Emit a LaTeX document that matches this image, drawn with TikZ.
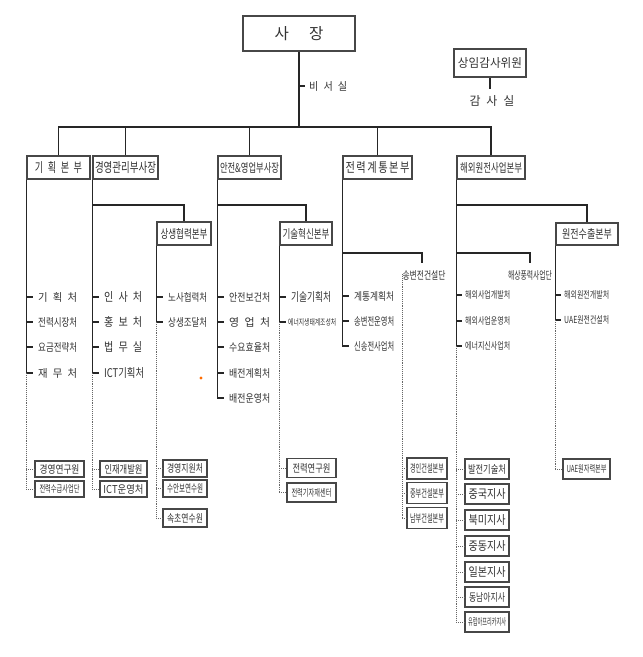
\documentclass[tikz,border=0pt]{standalone}
\usepackage{fontspec}
\setmainfont{Noto Sans CJK KR}
\usepackage{graphicx}
\newcommand{\rz}[3]{\resizebox{#1pt}{#2pt}{#3}}
\newcommand{\gp}{\hspace{0.5em}}
\definecolor{txt}{HTML}{333333}
\begin{document}
\begin{tikzpicture}[x=1pt,y=-1pt,
  box/.style={draw=black!72, line width=1.4pt, fill=white, inner sep=0pt, text=txt},
  ln/.style={draw=black!85, line width=1.2pt},
  dt/.style={draw=black!60, line width=0.7pt, dash pattern=on 0.8pt off 1.1pt},
  item/.style={anchor=west, inner xsep=5pt, inner ysep=0pt, text=txt},
  lbl/.style={inner sep=0pt, text=txt}]
\useasboundingbox[fill=white] (0,0) rectangle (643,657);

% top
\node[box, minimum width=112pt, minimum height=35pt] (ceo) at (299,33.5) {\rz{49}{13}{사\hspace{1.3em}장}};
\node[lbl, anchor=west] (bisa) at (309,86) {\rz{38}{9}{비\gp 서\gp 실}};
\node[box, minimum width=72pt, minimum height=28pt] (audit) at (490,63) {\rz{64}{10}{상임감사위원}};
\coordinate (auditend) at (490,89);
\node[lbl] (gamsa) at (492,101) {\rz{45}{10}{감\gp 사\gp 실}};
\draw[ln] (audit.south) -- (auditend);
\coordinate (bus) at (0,127);
\draw[ln] (ceo.south) -- (ceo.south |- bus);
\draw[ln] (ceo.south |- bisa) -- ([xshift=-4pt]bisa.west);

% level 1
\node[box, minimum width=63pt, minimum height=23pt] (plan) at (58.5,167.5) {\rz{47}{11}{기\gp 획\gp 본\gp 부}};
\node[box, minimum width=65pt, minimum height=23pt] (mgmt) at (125.5,167.5) {\rz{61}{11}{경영관리부사장}};
\node[box, minimum width=63pt, minimum height=23pt] (safe) at (249.5,167.5) {\rz{59}{10}{안전\&영업부사장}};
\node[box, minimum width=69pt, minimum height=23pt] (grid) at (377.5,167.5) {\rz{64}{11}{전\hspace{0.15em}력\hspace{0.15em}계\hspace{0.15em}통\hspace{0.15em}본\hspace{0.15em}부}};
\node[box, minimum width=68pt, minimum height=23pt] (ovs) at (491,167.5) {\rz{62}{10}{해외원전사업본부}};
\draw[ln] (plan.north) -- (plan.north |- bus) -- (ovs.north |- bus) -- (ovs.north);
\draw[ln] (mgmt.north) -- (mgmt.north |- bus);
\draw[ln] (safe.north) -- (safe.north |- bus);
\draw[ln] (grid.north) -- (grid.north |- bus);

% level 2
\coordinate (b2) at (0,205);
\coordinate (b3) at (0,253);
\node[box, minimum width=54pt, minimum height=23pt] (coop) at (184,233.5) {\rz{47}{10}{상생협력본부}};
\node[box, minimum width=52pt, minimum height=23pt] (tech) at (306,233.5) {\rz{47}{10}{기술혁신본부}};
\node[box, minimum width=62pt, minimum height=22pt] (nuc) at (587,234) {\rz{50}{10}{원전수출본부}};
\draw[ln] (mgmt.south west |- b2) -| (coop.north);
\draw[ln] (safe.south west |- b2) -| (tech.north);
\draw[ln] (ovs.south west |- b2) -| (nuc.north);
\node[lbl] (songb) at (424,275) {\rz{43}{9}{송변전건설단}};
\node[lbl] (offw) at (530,275) {\rz{44}{9}{해상풍력사업단}};
\coordinate (songtop) at (422,263);
\coordinate (offtop) at (530,263);
\draw[ln] (grid.south west |- b3) -| (songtop);
\draw[ln] (ovs.south west |- b3) -| (offtop);

% plan column
\node[item] (p1) at (33,297) {\rz{39}{9}{기\gp 획\gp 처}};
\node[item] (p2) at (33,322) {\rz{39}{9}{전력시장처}};
\node[item] (p3) at (33,347) {\rz{39}{9}{요금전략처}};
\node[item] (p4) at (33,373) {\rz{39}{9}{재\gp 무\gp 처}};
\draw[ln] (plan.south west) -- (plan.south west |- p4);
\foreach \n in {p1,p2,p3,p4} \draw[ln] (plan.south west |- \n) -- (\n.west);
\node[box, minimum width=49pt, minimum height=16pt] (pb1) at (59.5,469) {\rz{40}{9}{경영연구원}};
\node[box, minimum width=49pt, minimum height=16pt] (pb2) at (59.5,489) {\rz{40}{8}{전력수급사업단}};
\draw[dt] (plan.south west |- p4) -- (plan.south west |- pb2);
\foreach \n in {pb1,pb2} \draw[dt] (plan.south west |- \n) -- (\n.west);

% mgmt column
\node[item] (m1) at (99,297) {\rz{38}{10}{인\gp 사\gp 처}};
\node[item] (m2) at (99,322) {\rz{38}{10}{홍\gp 보\gp 처}};
\node[item] (m3) at (99,347) {\rz{38}{10}{법\gp 무\gp 실}};
\node[item] (m4) at (99,373) {\rz{40}{10}{ICT기획처}};
\draw[ln] (mgmt.south west) -- (mgmt.south west |- m4);
\foreach \n in {m1,m2,m3,m4} \draw[ln] (mgmt.south west |- \n) -- (\n.west);
\node[box, minimum width=47pt, minimum height=16pt] (mb1) at (123.5,469) {\rz{38}{9}{인재개발원}};
\node[box, minimum width=47pt, minimum height=16pt] (mb2) at (123.5,489) {\rz{40}{9}{ICT운영처}};
\draw[dt] (mgmt.south west |- m4) -- (mgmt.south west |- mb2);
\foreach \n in {mb1,mb2} \draw[dt] (mgmt.south west |- \n) -- (\n.west);

% coop column
\node[item] (c1) at (163,297) {\rz{39}{9}{노사협력처}};
\node[item] (c2) at (163,322) {\rz{39}{9}{상생조달처}};
\draw[ln] (coop.south west) -- (coop.south west |- c2);
\foreach \n in {c1,c2} \draw[ln] (coop.south west |- \n) -- (\n.west);
\node[box, minimum width=44pt, minimum height=17pt] (cb1) at (185,468.5) {\rz{36}{9}{경영지원처}};
\node[box, minimum width=44pt, minimum height=17pt] (cb2) at (185,488.5) {\rz{36}{9}{수안보연수원}};
\node[box, minimum width=44pt, minimum height=18pt] (cb3) at (185,518) {\rz{36}{9}{속초연수원}};
\draw[dt] (coop.south west |- c2) -- (coop.south west |- cb3);
\foreach \n in {cb1,cb2,cb3} \draw[dt] (coop.south west |- \n) -- (\n.west);
\fill[orange!85!red] (201,378) circle (1.7pt);

% safe column
\node[item] (s1) at (224,297) {\rz{41}{9}{안전보건처}};
\node[item] (s2) at (224,322) {\rz{41}{9}{영\gp 업\gp 처}};
\node[item] (s3) at (224,347) {\rz{41}{9}{수요효율처}};
\node[item] (s4) at (224,373) {\rz{41}{9}{배전계획처}};
\node[item] (s5) at (224,398) {\rz{41}{9}{배전운영처}};
\draw[ln] (safe.south west) -- (safe.south west |- s5);
\foreach \n in {s1,s2,s3,s4,s5} \draw[ln] (safe.south west |- \n) -- (\n.west);

% tech column
\node[item] (t1) at (286,297) {\rz{40}{10}{기술기획처}};
\node[item, inner xsep=2pt] (t2) at (286,322) {\rz{48}{7}{에너지생태계조성처}};
\draw[ln] (tech.south west) -- (tech.south west |- t2);
\foreach \n in {t1,t2} \draw[ln] (tech.south west |- \n) -- (\n.west);
\node[box, minimum width=49pt, minimum height=19pt] (tb1) at (311.5,468) {\rz{38}{9}{전력연구원}};
\node[box, minimum width=49pt, minimum height=19pt] (tb2) at (311.5,492.5) {\rz{40}{8}{전력기자재센터}};
\draw[dt] (tech.south west |- t2) -- (tech.south west |- tb2);
\foreach \n in {tb1,tb2} \draw[dt] (tech.south west |- \n) -- (\n.west);

% grid column
\node[item] (g1) at (349,296) {\rz{40}{9}{계통계획처}};
\node[item] (g2) at (349,321) {\rz{40}{9}{송변전운영처}};
\node[item] (g3) at (349,346) {\rz{40}{9}{신송전사업처}};
\draw[ln] (grid.south west) -- (grid.south west |- g3);
\foreach \n in {g1,g2,g3} \draw[ln] (grid.south west |- \n) -- (\n.west);
\node[box, minimum width=40pt, minimum height=21pt] (gb1) at (427,468.5) {\rz{34}{9}{경인건설본부}};
\node[box, minimum width=40pt, minimum height=21pt] (gb2) at (427,493) {\rz{34}{9}{중부건설본부}};
\node[box, minimum width=40pt, minimum height=21pt] (gb3) at (427,518) {\rz{34}{9}{남부건설본부}};
\draw[dt] ([yshift=6pt]songb.south west) -- (songb.south west |- gb3);
\foreach \n in {gb1,gb2,gb3} \draw[dt] (songb.south west |- \n) -- (\n.west);

% overseas column
\node[item, inner xsep=3pt] (o1) at (462,295) {\rz{45}{8}{해외사업개발처}};
\node[item, inner xsep=3pt] (o2) at (462,321) {\rz{45}{8}{해외사업운영처}};
\node[item, inner xsep=3pt] (o3) at (462,346) {\rz{45}{8}{에너지신사업처}};
\draw[ln] (ovs.south west) -- (ovs.south west |- o3);
\foreach \n in {o1,o2,o3} \draw[ln] (ovs.south west |- \n) -- (\n.west);
\node[box, minimum width=44pt, minimum height=20pt] (ob1) at (487,469) {\rz{38}{9}{발전기술처}};
\node[box, minimum width=44pt, minimum height=20pt] (ob2) at (487,494) {\rz{37}{10}{중국지사}};
\node[box, minimum width=44pt, minimum height=20pt] (ob3) at (487,520) {\rz{37}{10}{북미지사}};
\node[box, minimum width=44pt, minimum height=20pt] (ob4) at (487,546) {\rz{37}{10}{중동지사}};
\node[box, minimum width=44pt, minimum height=20pt] (ob5) at (487,572) {\rz{37}{10}{일본지사}};
\node[box, minimum width=44pt, minimum height=20pt] (ob6) at (487,597) {\rz{36}{9}{동남아지사}};
\node[box, minimum width=44pt, minimum height=20pt] (ob7) at (487,622) {\rz{38}{8}{유럽아프리카지사}};
\draw[dt] (ovs.south west |- o3) -- (ovs.south west |- ob7);
\foreach \n in {ob1,ob2,ob3,ob4,ob5,ob6,ob7} \draw[dt] (ovs.south west |- \n) -- (\n.west);

% nuclear export column
\node[item, inner xsep=3pt] (n1) at (561,295) {\rz{45}{8}{해외원전개발처}};
\node[item, inner xsep=3pt] (n2) at (561,320) {\rz{45}{8}{UAE원전건설처}};
\draw[ln] (nuc.south west) -- (nuc.south west |- n2);
\foreach \n in {n1,n2} \draw[ln] (nuc.south west |- \n) -- (\n.west);
\node[box, minimum width=47pt, minimum height=20pt] (ub) at (586.5,469) {\rz{40}{8}{UAE원자력본부}};
\draw[dt] (nuc.south west |- n2) -- (nuc.south west |- ub);
\draw[dt] (nuc.south west |- ub) -- (ub.west);
\end{tikzpicture}
\end{document}
